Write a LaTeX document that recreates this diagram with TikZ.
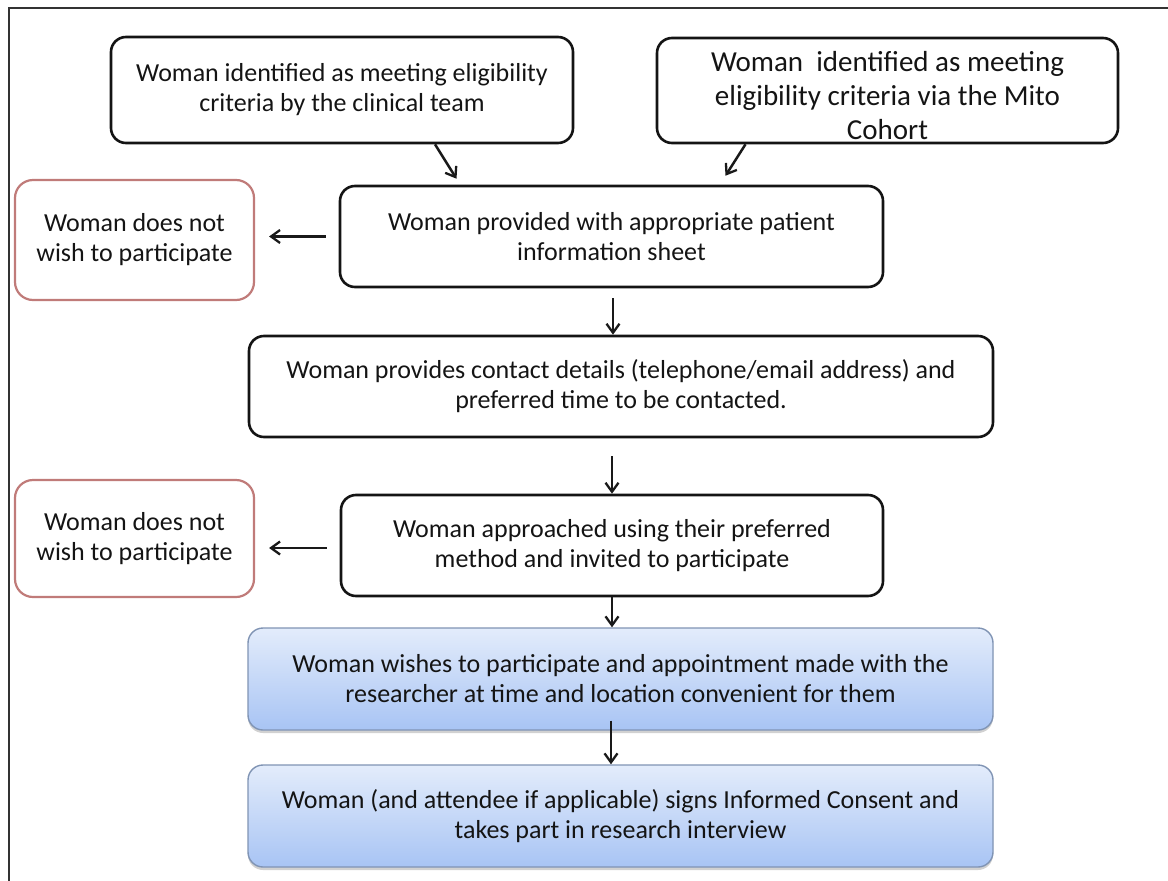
\documentclass[tikz,border=0pt]{standalone}
\usepackage{fontspec}
\setmainfont{Carlito}
\usetikzlibrary{arrows.meta,shadows,calc}

\definecolor{inktext}{HTML}{141414}
\definecolor{exitred}{HTML}{C07B79}
\definecolor{blueTop}{HTML}{E3ECFB}
\definecolor{blueBot}{HTML}{A8C4F4}
\definecolor{blueEdge}{HTML}{8094B4}

\begin{document}
\begin{tikzpicture}[x=1pt,y=-1pt,
  txt/.style={font=\fontsize{26}{30}\selectfont, text=inktext, align=center},
  stepbox/.style={txt, draw=black!92, line width=2.6pt, rounded corners=15pt, inner sep=0pt},
  exitbox/.style={txt, draw=exitred, line width=2.2pt, rounded corners=18pt, inner sep=0pt},
  bluebox/.style={txt, draw=blueEdge, line width=1.4pt, rounded corners=15pt, inner sep=0pt,
    top color=blueTop, bottom color=blueBot,
    drop shadow={shadow xshift=0pt, shadow yshift=-3pt, opacity=0.3, fill=black!60}},
  arr/.style={draw=black!90, line width=2.5pt, -{Straight Barb[length=9pt,width=13pt,line width=2.3pt]}}
]
\useasboundingbox (0,0) rectangle (1168,881);

% outer frame (only the top and left sides are on the page)
\draw[black!80, line width=1.8pt] (9,881) -- (9,8) -- (1168,8);

% entry routes
\node[stepbox, minimum width=462pt, minimum height=106pt] (A) at (342,90)
  {Woman identified as meeting eligibility\\criteria by the clinical team};
\node[stepbox, minimum width=461pt, minimum height=105pt] (B) at (887.5,90.5) {};
\node[txt, font=\fontsize{29}{34}\selectfont] (Btext) at (887.5,96)
  {Woman\ \ identified as meeting\\eligibility criteria via the Mito\\Cohort};

% main sequence
\node[stepbox, minimum width=543pt, minimum height=101pt] (C) at (611.5,236.5)
  {Woman provided with appropriate patient\\information sheet};
\node[stepbox, minimum width=744pt, minimum height=101pt] (D) at (621,386.5)
  {Woman provides contact details (telephone/email address) and\\preferred time to be contacted.};
\node[stepbox, minimum width=542pt, minimum height=101pt] (F) at (612,545.5)
  {Woman approached using their preferred\\method and invited to participate};
\node[bluebox, minimum width=745pt, minimum height=102pt] (E) at (620.5,679)
  {Woman wishes to participate and appointment made with the\\researcher at time and location convenient for them};
\node[bluebox, minimum width=745pt, minimum height=102pt] (G) at (620.5,816)
  {Woman (and attendee if applicable) signs Informed Consent and\\takes part in research interview};

% exits
\node[exitbox, minimum width=239pt, minimum height=120pt] (R1) at (134.5,240)
  {Woman does not\\wish to participate};
\node[exitbox, minimum width=239pt, minimum height=117pt] (R2) at (134.5,538.5)
  {Woman does not\\wish to participate};

% connectors
\draw[arr] ([xshift=93pt]A.south) -- ([xshift=-155pt,yshift=6pt]C.north);
\draw[arr] ([xshift=-142pt]B.south) -- ([xshift=114pt,yshift=9pt]C.north);
\draw[arr] ($(C.west)+(-13,0)$) -- ($(C.west -| R1.east)+(14,0)$);
\coordinate (cd) at ($(C.south)+(1.5,10)$);
\draw[arr] (cd) -- (cd |- D.north);
\coordinate (df) at ($(D.south -| F.north)+(0,18)$);
\draw[arr] (df) -- (F.north);
\draw[arr] ($(F.west)+(-13,2.5)$) -- ($(F.west -| R2.east)+(14,2.5)$);
\draw[arr] (F.south) -- (F.south |- E.north);
\coordinate (eg) at ($(E.south)+(-9.5,-10)$);
\draw[arr] (eg) -- (eg |- G.north);
\end{tikzpicture}
\end{document}
